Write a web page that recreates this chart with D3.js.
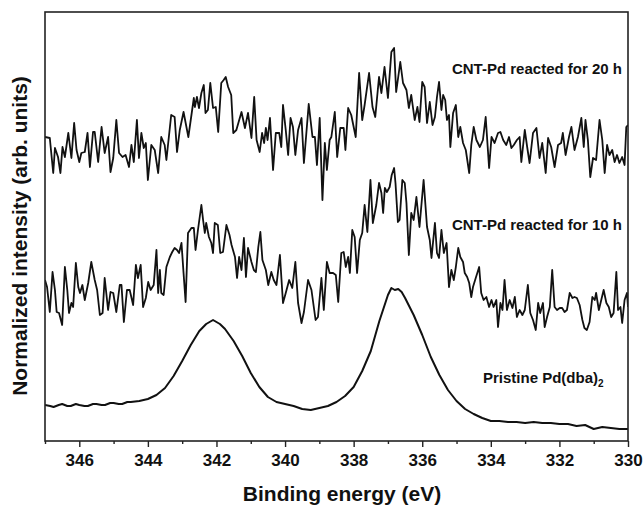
<!DOCTYPE html>
<html>
<head>
<meta charset="utf-8">
<script src="https://cdn.jsdelivr.net/npm/d3@7"></script>
<style>
  body { margin: 0; background: #fff; }
  text { font-family: "Liberation Sans", Arial, sans-serif; font-weight: bold; fill: #111; }
</style>
</head>
<body>
<div id="chart-area"></div>
<script>
// Pd 3d XPS spectra, binding energy (eV) vs normalized intensity (arb. units, curves offset)

const majorTicks = [346, 344, 342, 340, 338, 336, 334, 332, 330];
const minorTicks = [347, 345, 343, 341, 339, 337, 335, 333, 331];

const labels = ["CNT-Pd reacted for 20 h", "CNT-Pd reacted for 10 h", "Pristine Pd(dba)"];

// CNT-Pd reacted for 20 h
const h20 = [
	[347.00, 304], [346.86, 303], [346.76, 268], [346.71, 293], [346.62, 284], [346.55, 268],
	[346.49, 294], [346.42, 284], [346.32, 308], [346.23, 283], [346.15, 318], [346.08, 291],
	[346.00, 279], [345.94, 288], [345.84, 289], [345.76, 308], [345.69, 274], [345.60, 309],
	[345.55, 309], [345.45, 279], [345.35, 314], [345.26, 288], [345.16, 304], [345.09, 269],
	[345.01, 283], [344.92, 321], [344.84, 288], [344.74, 284], [344.65, 286], [344.55, 274],
	[344.48, 296], [344.41, 279], [344.32, 321], [344.26, 283], [344.19, 308], [344.12, 293],
	[344.06, 298], [344.00, 261], [343.90, 296], [343.80, 291], [343.70, 268], [343.61, 304],
	[343.51, 296], [343.46, 281], [343.32, 326], [343.22, 324], [343.15, 289], [343.07, 311],
	[342.96, 329], [342.82, 304], [342.66, 343], [342.63, 334], [342.57, 344], [342.51, 333],
	[342.44, 348], [342.37, 356], [342.32, 328], [342.25, 331], [342.18, 358], [342.10, 333],
	[342.02, 334], [341.95, 309], [341.86, 358], [341.79, 361], [341.73, 364], [341.66, 354],
	[341.57, 346], [341.51, 308], [341.42, 311], [341.27, 329], [341.17, 313], [341.08, 328],
	[340.98, 303], [340.90, 344], [340.83, 301], [340.74, 289], [340.67, 308], [340.61, 298],
	[340.56, 313], [340.51, 301], [340.44, 323], [340.35, 271], [340.27, 308], [340.17, 308],
	[340.11, 294], [340.06, 336], [339.98, 311], [339.91, 286], [339.84, 323], [339.77, 314],
	[339.70, 286], [339.62, 311], [339.52, 323], [339.45, 278], [339.31, 337], [339.20, 304],
	[339.13, 304], [339.07, 276], [338.99, 323], [338.91, 241], [338.84, 298], [338.78, 271],
	[338.70, 301], [338.65, 304], [338.55, 329], [338.48, 284], [338.39, 313], [338.29, 313],
	[338.24, 291], [338.16, 333], [338.07, 326], [337.94, 304], [337.84, 368], [337.75, 321],
	[337.68, 336], [337.55, 368], [337.45, 334], [337.37, 324], [337.26, 364], [337.19, 348],
	[337.10, 374], [337.00, 343], [336.90, 389], [336.82, 393], [336.76, 349], [336.64, 379],
	[336.56, 358], [336.46, 351], [336.39, 333], [336.32, 346], [336.22, 321], [336.14, 334],
	[336.08, 319], [336.00, 359], [335.93, 354], [335.86, 318], [335.78, 339], [335.70, 316],
	[335.63, 324], [335.57, 344], [335.51, 359], [335.44, 331], [335.39, 346], [335.33, 341],
	[335.28, 321], [335.22, 326], [335.18, 294], [335.10, 328], [335.02, 336], [334.95, 304],
	[334.89, 314], [334.81, 298], [334.73, 291], [334.63, 268], [334.57, 296], [334.50, 314],
	[334.42, 301], [334.32, 294], [334.23, 301], [334.15, 324], [334.05, 273], [333.98, 304],
	[333.89, 298], [333.79, 308], [333.72, 309], [333.64, 301], [333.55, 296], [333.47, 304],
	[333.40, 293], [333.33, 296], [333.24, 301], [333.16, 304], [333.11, 279], [333.01, 311],
	[332.94, 294], [332.87, 278], [332.77, 308], [332.67, 313], [332.58, 283], [332.50, 298],
	[332.40, 268], [332.33, 303], [332.24, 294], [332.14, 274], [332.04, 296], [331.95, 298],
	[331.90, 308], [331.82, 286], [331.72, 304], [331.65, 314], [331.56, 291], [331.46, 304],
	[331.36, 323], [331.29, 294], [331.24, 321], [331.17, 301], [331.10, 264], [331.02, 283],
	[330.93, 281], [330.83, 321], [330.75, 301], [330.68, 268], [330.61, 296], [330.54, 286],
	[330.46, 291], [330.39, 279], [330.32, 286], [330.25, 278], [330.17, 284], [330.10, 276],
	[330.05, 314], [330.00, 316]
];

// CNT-Pd reacted for 10 h
const h10 = [
	[347.00, 161], [346.94, 154], [346.86, 129], [346.78, 169], [346.71, 151], [346.66, 129],
	[346.59, 128], [346.50, 116], [346.42, 174], [346.35, 151], [346.30, 128], [346.23, 138],
	[346.18, 134], [346.10, 178], [346.03, 154], [345.98, 148], [345.91, 156], [345.84, 141],
	[345.74, 158], [345.65, 179], [345.55, 161], [345.48, 151], [345.40, 126], [345.32, 128],
	[345.26, 163], [345.16, 131], [345.09, 149], [345.01, 148], [344.92, 129], [344.82, 156],
	[344.77, 156], [344.70, 119], [344.61, 151], [344.53, 151], [344.43, 136], [344.35, 176],
	[344.29, 163], [344.21, 176], [344.14, 134], [344.06, 143], [343.99, 159], [343.92, 151],
	[343.83, 156], [343.75, 191], [343.70, 148], [343.65, 171], [343.61, 148], [343.54, 146],
	[343.46, 174], [343.36, 184], [343.29, 189], [343.22, 193], [343.15, 191], [343.09, 188],
	[343.02, 198], [342.96, 168], [342.90, 139], [342.83, 208], [342.73, 213], [342.66, 213],
	[342.61, 191], [342.54, 211], [342.44, 236], [342.39, 221], [342.34, 208], [342.30, 218],
	[342.22, 204], [342.15, 198], [342.10, 188], [342.05, 218], [341.96, 216], [341.89, 188],
	[341.81, 189], [341.71, 216], [341.62, 206], [341.56, 196], [341.46, 184], [341.40, 163],
	[341.34, 184], [341.27, 171], [341.20, 203], [341.14, 164], [341.08, 193], [340.98, 179],
	[340.91, 171], [340.85, 169], [340.78, 194], [340.72, 209], [340.66, 181], [340.56, 171],
	[340.49, 156], [340.40, 169], [340.33, 161], [340.25, 156], [340.15, 186], [340.06, 138],
	[339.98, 148], [339.88, 161], [339.79, 153], [339.70, 179], [339.62, 138], [339.52, 118],
	[339.45, 129], [339.33, 161], [339.23, 151], [339.11, 121], [339.04, 124], [338.94, 163],
	[338.87, 131], [338.78, 179], [338.70, 168], [338.60, 168], [338.52, 166], [338.45, 139],
	[338.36, 188], [338.29, 189], [338.23, 174], [338.16, 184], [338.11, 168], [338.04, 211],
	[337.97, 204], [337.90, 168], [337.82, 201], [337.75, 208], [337.68, 236], [337.60, 209],
	[337.51, 261], [337.44, 218], [337.34, 236], [337.26, 258], [337.19, 248], [337.14, 228],
	[337.09, 253], [337.03, 249], [336.95, 254], [336.89, 266], [336.82, 273], [336.78, 258],
	[336.71, 219], [336.66, 221], [336.58, 261], [336.51, 258], [336.46, 238], [336.39, 186],
	[336.32, 228], [336.25, 221], [336.17, 244], [336.08, 214], [335.96, 261], [335.86, 214],
	[335.78, 201], [335.73, 183], [335.63, 218], [335.57, 188], [335.51, 183], [335.44, 211],
	[335.37, 188], [335.29, 198], [335.22, 154], [335.15, 171], [335.08, 161], [335.02, 174],
	[334.95, 193], [334.89, 184], [334.81, 179], [334.76, 168], [334.69, 164], [334.63, 158],
	[334.57, 144], [334.52, 154], [334.44, 163], [334.34, 174], [334.28, 148], [334.21, 141],
	[334.13, 144], [334.05, 134], [333.98, 141], [333.92, 134], [333.84, 141], [333.79, 114],
	[333.72, 138], [333.66, 131], [333.60, 161], [333.53, 131], [333.45, 141], [333.37, 133],
	[333.30, 144], [333.24, 124], [333.16, 131], [333.08, 126], [333.01, 131], [332.92, 156],
	[332.85, 128], [332.77, 121], [332.69, 111], [332.62, 138], [332.56, 128], [332.48, 138],
	[332.43, 114], [332.36, 124], [332.28, 134], [332.21, 171], [332.14, 134], [332.07, 131],
	[331.99, 133], [331.92, 133], [331.85, 129], [331.78, 131], [331.70, 148], [331.62, 143],
	[331.56, 144], [331.49, 143], [331.41, 136], [331.33, 121], [331.27, 113], [331.20, 111],
	[331.12, 119], [331.04, 144], [330.97, 141], [330.93, 148], [330.85, 131], [330.78, 141],
	[330.71, 151], [330.63, 138], [330.56, 134], [330.49, 124], [330.42, 128], [330.34, 169],
	[330.29, 131], [330.22, 134], [330.17, 118], [330.10, 141], [330.03, 148], [330.00, 134]
];

// Pristine Pd(dba)2
const pristine = [
	[347.00, 36], [346.85, 35], [346.75, 34], [346.6, 36], [346.5, 37], [346.35, 35], [346.25, 35],
	[346.1, 37], [346.0, 36], [345.85, 35], [345.75, 35], [345.6, 37], [345.5, 37], [345.35, 36],
	[345.25, 36], [345.1, 38], [345.0, 38], [344.85, 37], [344.75, 37], [344.6, 39], [344.5, 39],
	[344.25, 40], [344.0, 42], [343.75, 46], [343.5, 53], [343.25, 65], [343.0, 80], [342.75, 96],
	[342.5, 110], [342.3, 117], [342.2, 119], [342.1, 121], [342.0, 119], [341.9, 117], [341.75, 112],
	[341.5, 100], [341.25, 85], [341.0, 68], [340.75, 54], [340.5, 44], [340.25, 39], [340.0, 37],
	[339.75, 35], [339.5, 32], [339.25, 31], [339.0, 33], [338.75, 35], [338.5, 39], [338.25, 45],
	[338.0, 54], [337.75, 70], [337.5, 90], [337.25, 120], [337.0, 146], [336.9, 153], [336.8, 151],
	[336.7, 152], [336.6, 149], [336.5, 143], [336.25, 126], [336.0, 106], [335.75, 84], [335.5, 66],
	[335.25, 51], [335.0, 40], [334.75, 32], [334.5, 27], [334.25, 23], [334.0, 20], [333.75, 20],
	[333.5, 19], [333.25, 19], [333.0, 18], [332.75, 19], [332.5, 18], [332.25, 18], [332.0, 17],
	[331.75, 17], [331.5, 15], [331.25, 16], [331.0, 12], [330.75, 14], [330.5, 13], [330.25, 12],
	[330.0, 12]
];

const margin = { left: 45, right: 15, top: 12, bottom: 65 };
const width = 643 - margin.left - margin.right;
const height = 506 - margin.top - margin.bottom;

const svg = d3.select("#chart-area").append("svg")
	.attr("width", 643)
	.attr("height", 506);

const g = svg.append("g")
	.attr("transform", `translate(${margin.left}, ${margin.top})`);

const x = d3.scaleLinear().domain([347, 330]).range([0, width]);
const y = d3.scaleLinear().domain([0, 429]).range([height, 0]);

g.append("clipPath").attr("id", "plot-clip")
	.append("rect").attr("width", width).attr("height", height);

// minor ticks
g.append("g")
	.attr("class", "x-axis-minor")
	.attr("transform", `translate(0, ${height})`)
	.call(d3.axisBottom(x).tickValues(minorTicks).tickSize(3).tickFormat(""))
	.call(a => a.select(".domain").remove());

// major ticks + labels
g.append("g")
	.attr("class", "x-axis")
	.attr("transform", `translate(0, ${height})`)
	.call(d3.axisBottom(x).tickValues(majorTicks).tickSize(6).tickPadding(7).tickFormat(d3.format("d")))
	.call(a => a.select(".domain").remove())
	.selectAll("text")
	.attr("font-size", "17px")
	.attr("font-family", "Liberation Sans, Arial, sans-serif")
	.attr("font-weight", "bold")
	.attr("fill", "#111");

g.selectAll(".tick line").attr("stroke", "#222").attr("stroke-width", 1.4);

const line = d3.line()
	.x(d => x(d[0]))
	.y(d => y(d[1]));

const series = [
	{ data: h20, w: 1.8 },
	{ data: h10, w: 1.8 },
	{ data: pristine, w: 2 }
];

g.append("g").attr("clip-path", "url(#plot-clip)")
	.selectAll("path").data(series)
	.enter().append("path")
	.attr("d", d => line(d.data))
	.attr("fill", "none")
	.attr("stroke", "#111")
	.attr("stroke-width", d => d.w)
	.attr("stroke-linejoin", "round");

// frame
g.append("rect")
	.attr("width", width)
	.attr("height", height)
	.attr("fill", "none")
	.attr("stroke", "#222")
	.attr("stroke-width", 1.6);

// curve labels
g.append("text")
	.attr("x", width - 6)
	.attr("y", 62)
	.attr("font-size", "15px")
	.attr("text-anchor", "end")
	.text(labels[0]);

g.append("text")
	.attr("x", width - 6)
	.attr("y", 218)
	.attr("font-size", "15px")
	.attr("text-anchor", "end")
	.text(labels[1]);

const p = g.append("text")
	.attr("x", 438)
	.attr("y", 371)
	.attr("font-size", "15px");
p.append("tspan").text(labels[2]);
p.append("tspan").attr("dy", 4).attr("font-size", "10px").text("2");

// x-axis label
g.append("text")
	.attr("x", 297)
	.attr("y", 489)
	.attr("font-size", "21px")
	.attr("text-anchor", "middle")
	.text("Binding energy (eV)");

// y-axis label
g.append("text")
	.attr("x", -(224))
	.attr("y", -18)
	.attr("font-size", "21px")
	.attr("text-anchor", "middle")
	.attr("transform", "rotate(-90)")
	.text("Normalized intensity (arb. units)");
</script>
</body>
</html>
